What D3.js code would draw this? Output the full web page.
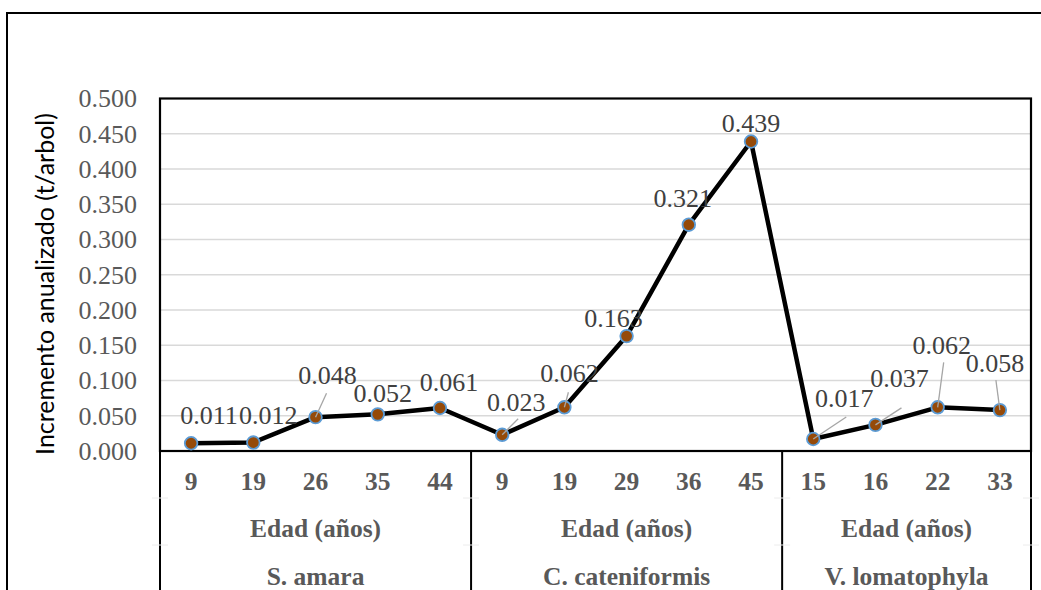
<!DOCTYPE html>
<html>
<head>
<meta charset="utf-8">
<script src="https://cdn.jsdelivr.net/npm/d3@7"></script>
<style>
  html, body { margin: 0; padding: 0; background: #fff; }
  svg { display: block; }
  .serif { font-family: "Liberation Serif", "Times New Roman", serif; }
</style>
</head>
<body>
<svg id="chart" width="1041" height="590"></svg>
<script>
// Species groups, tree ages and annualised increment per tree
const species = ["S. amara", "C. cateniformis", "V. lomatophyla"];
const agesSAmara = [9, 19, 26, 35, 44];
const agesCCateniformis = [9, 19, 29, 36, 45];
const agesVLomatophyla = [15, 16, 22, 33];
const incSAmara = [0.011, 0.012, 0.048, 0.052, 0.061];
const incCCateniformis = [0.023, 0.062, 0.163, 0.321, 0.439];
const incVLomatophyla = [0.017, 0.037, 0.062, 0.058];
const ageLabel = "Edad (años)";
const yTitle = "Incremento anualizado (t/arbol)";
const yMax = 0.5;
const yStep = 0.05;

// Label placement: [dx, dy] of the label centre from its point,
// plus optional leader line end [lx, ly] relative to the point.
const labelPlacement = [
  [18, -28], [15, -28], [12, -42, 11, -24], [5, -21], [9, -26],
  [14, -33, 16, -16], [5, -34, 4, -15], [-13, -18], [-6, -27], [0, -19],
  [31, -41, 33, -22], [24, -47, 26, -17], [4, -62, 6, -45], [-5, -47, -4, -30]
];

const groupAges = [agesSAmara, agesCCateniformis, agesVLomatophyla];
const groupValues = [incSAmara, incCCateniformis, incVLomatophyla];

const rows = [];
groupAges.forEach((ages, g) => {
  ages.forEach((a, i) => rows.push({ group: g, age: a, value: groupValues[g][i] }));
});
rows.forEach((d, i) => { d.idx = i; d.place = labelPlacement[i]; });

const svg = d3.select("#chart");
const plot = { left: 160, right: 1031, top: 98.5, bottom: 451 };

const x = d3.scaleBand()
  .domain(rows.map(d => d.idx))
  .range([plot.left, plot.right])
  .padding(0);
const y = d3.scaleLinear().domain([0, yMax]).range([plot.bottom, plot.top]);
const cx = i => x(i) + x.bandwidth() / 2;

// Outer chart frame
svg.append("path")
  .attr("d", `M7,590 L7,13 L1041,13`)
  .attr("fill", "none").attr("stroke", "#000").attr("stroke-width", 2);

// Horizontal gridlines
const yTicks = d3.range(0, yMax + yStep / 2, yStep);
svg.append("g").selectAll("line")
  .data(yTicks.filter(t => t > 0 && t < yMax - 1e-9))
  .join("line")
  .attr("x1", plot.left).attr("x2", plot.right)
  .attr("y1", d => y(d)).attr("y2", d => y(d))
  .attr("stroke", "#d9d9d9").attr("stroke-width", 1.6);

// Y axis tick labels
const yAxis = d3.axisLeft(y).tickValues(yTicks).tickFormat(d3.format(".3f")).tickSize(0).tickPadding(23);
const gy = svg.append("g").attr("transform", `translate(${plot.left},0)`).call(yAxis);
gy.attr("font-family", null).attr("font-size", null);
gy.select(".domain").remove();
gy.selectAll("text")
  .attr("class", "serif")
  .style("font-size", "26px").attr("fill", "#595959");

// Y axis title, fitted to its available length
const yt = svg.append("text")
  .attr("transform", `translate(54,284) rotate(-90)`)
  .attr("text-anchor", "middle")
  .style("font-family", "Lato, 'Open Sans', sans-serif")
  .style("font-size", "20px").attr("fill", "#000")
  .text(yTitle);
const len = yt.node().getComputedTextLength();
yt.style("font-size", (20 * 342 / len) + "px");

// Plot border
svg.append("rect")
  .attr("x", plot.left).attr("y", plot.top)
  .attr("width", plot.right - plot.left).attr("height", plot.bottom - plot.top)
  .attr("fill", "none").attr("stroke", "#000").attr("stroke-width", 2.2);

// Multi-level category axis: group dividers
const bounds = [0];
groupAges.forEach((a, g) => bounds.push(bounds[g] + a.length));
const divX = bounds.map(b => b < rows.length ? x(b) : plot.right);
svg.append("g").selectAll("line").data(divX).join("line")
  .attr("x1", d => d).attr("x2", d => d)
  .attr("y1", plot.bottom).attr("y2", 590)
  .attr("stroke", "#000").attr("stroke-width", 2);
// faint level separators beside each divider
[498, 545].forEach(yy => {
  svg.append("g").selectAll("line").data(divX).join("line")
    .attr("x1", d => d - 8).attr("x2", d => d + 8)
    .attr("y1", yy).attr("y2", yy)
    .attr("stroke", "#ececec").attr("stroke-width", 1);
});

// Ages
svg.append("g").selectAll("text").data(rows).join("text")
  .attr("class", "serif")
  .attr("x", d => cx(d.idx)).attr("y", 490)
  .attr("text-anchor", "middle")
  .style("font-weight", "bold").style("font-size", "25.5px").attr("fill", "#595959")
  .text(d => d.age);
// Group-level labels
const groupCenters = species.map((s, g) => (divX[g] + divX[g + 1]) / 2);
svg.append("g").selectAll("text").data(species).join("text")
  .attr("class", "serif")
  .attr("x", (d, g) => groupCenters[g]).attr("y", 537)
  .attr("text-anchor", "middle")
  .style("font-weight", "bold").style("font-size", "25.5px").attr("fill", "#595959")
  .text(ageLabel);
svg.append("g").selectAll("text").data(species).join("text")
  .attr("class", "serif")
  .attr("x", (d, g) => groupCenters[g]).attr("y", 585)
  .attr("text-anchor", "middle")
  .style("font-weight", "bold").style("font-size", "25.5px").attr("fill", "#595959")
  .text(d => d);

// Series line
const line = d3.line().x(d => cx(d.idx)).y(d => y(d.value));
svg.append("path").datum(rows)
  .attr("d", line)
  .attr("fill", "none").attr("stroke", "#000")
  .attr("stroke-width", 4.5).attr("stroke-linejoin", "round");

// Markers
svg.append("g").selectAll("circle").data(rows).join("circle")
  .attr("cx", d => cx(d.idx)).attr("cy", d => y(d.value))
  .attr("r", 6.3)
  .attr("fill", "#954a09").attr("stroke", "#5b9bd5").attr("stroke-width", 1.8);

// Leader lines
svg.append("g").selectAll("line").data(rows.filter(d => d.place.length > 2)).join("line")
  .attr("x1", d => cx(d.idx)).attr("y1", d => y(d.value))
  .attr("x2", d => cx(d.idx) + d.place[2]).attr("y2", d => y(d.value) + d.place[3])
  .attr("stroke", "#a6a6a6").attr("stroke-width", 1.3);

// Data labels
svg.append("g").selectAll("text").data(rows).join("text")
  .attr("class", "serif")
  .attr("x", d => cx(d.idx) + d.place[0])
  .attr("y", d => y(d.value) + d.place[1] + 9)
  .attr("text-anchor", "middle")
  .style("font-size", "26px").attr("fill", "#404040")
  .text(d => d3.format(".3f")(d.value));
</script>
</body>
</html>
